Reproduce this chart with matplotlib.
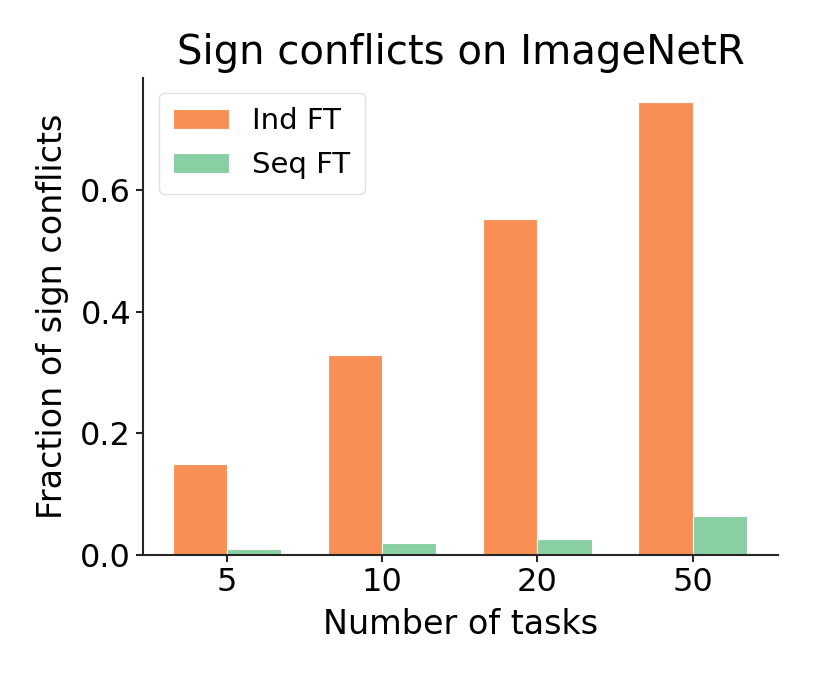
import numpy as np
import matplotlib.pyplot as plt

# data
tasks = ["5", "10", "20", "50"]
ind_ft = [0.150, 0.329, 0.552, 0.745]
seq_ft = [0.010, 0.020, 0.026, 0.064]

orange = "#f98f55"
green = "#88cfa4"

fig = plt.figure(figsize=(8.14, 6.78), dpi=100)
ax = fig.add_axes([0.1757, 0.1814, 0.78, 0.7036])

x = np.arange(len(tasks))
w = 0.35
ax.bar(x - w / 2, ind_ft, w, color=orange, edgecolor="white", linewidth=0.8, label="Ind FT")
ax.bar(x + w / 2, seq_ft, w, color=green, edgecolor="white", linewidth=0.8, label="Seq FT")

ax.set_xticks(x)
ax.set_xticklabels(tasks)
ax.set_yticks([0.0, 0.2, 0.4, 0.6])
ax.set_xlim(-0.54, 3.55)
ax.set_ylim(0, 0.784)

for s in ["top", "right"]:
    ax.spines[s].set_visible(False)
for s in ["left", "bottom"]:
    ax.spines[s].set_color("#262626")
    ax.spines[s].set_linewidth(1.5)
ax.tick_params(labelsize=23, width=1.5, length=5, colors="#262626", labelcolor="black")

ax.set_xlabel("Number of tasks", fontsize=24, labelpad=7)
ax.set_ylabel("Fraction of sign conflicts", fontsize=24, labelpad=8)
ax.set_title("Sign conflicts on ImageNetR", fontsize=29, pad=10)

leg = ax.legend(loc="upper left", fontsize=21, handlelength=1.9, borderpad=0.5,
                labelspacing=0.55, handletextpad=0.8, bbox_to_anchor=(0.002, 1.0))
leg.get_frame().set_edgecolor("#d9d9d9")

fig.savefig("out.png", dpi=100)
